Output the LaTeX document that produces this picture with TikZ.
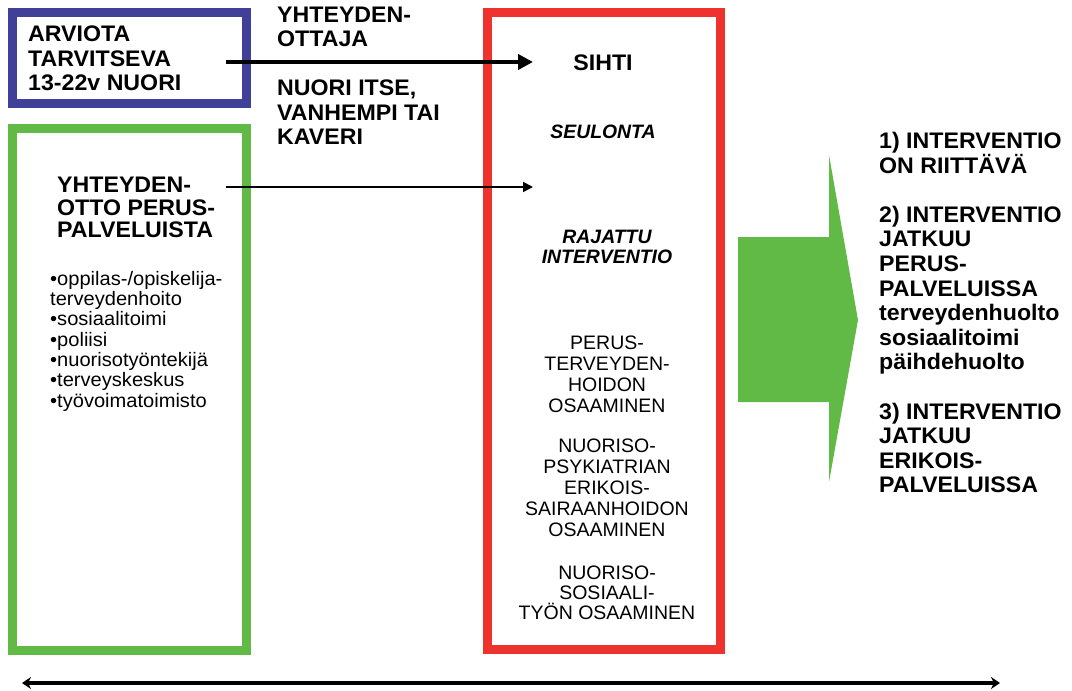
\documentclass[tikz,border=0pt]{standalone}
\usepackage{fontspec}
\setmainfont{Liberation Sans}
\newfontfamily\widesans{Liberation Sans}[FakeStretch=1.03]
\usetikzlibrary{arrows.meta}
\definecolor{boxblue}{RGB}{64,64,152}
\definecolor{boxgreen}{RGB}{98,186,70}
\definecolor{boxred}{RGB}{238,50,45}
\begin{document}
\begin{tikzpicture}[x=1pt,y=-1pt,
  frame/.style={line width=9pt},
  bigtxt/.style={font=\widesans\fontsize{22.5}{24.5}\selectfont\bfseries, inner sep=0pt, align=left},
  righttxt/.style={font=\widesans\fontsize{22.5}{24.6}\selectfont\bfseries, inner sep=0pt, align=left},
  listtxt/.style={font=\widesans\fontsize{19.5}{20.3}\selectfont, inner sep=0pt, align=left},
  redtxt/.style={font=\fontsize{19.5}{20.8}\selectfont, inner sep=0pt, align=center},
  itxt/.style={font=\fontsize{19.4}{20}\selectfont\bfseries\itshape, inner sep=0pt, align=center},
  thickarrow/.style={line width=4.5pt, -{Triangle[length=15pt,width=15pt]}},
  thinarrow/.style={line width=1.8pt, -{Triangle[length=10pt,width=10pt]}},
  bothway/.style={line width=3.4pt, {Stealth[length=9pt,width=12pt]}-{Stealth[length=9pt,width=12pt]}}]
\useasboundingbox (0,0) rectangle (1072,691);
% frames
\draw[frame, boxblue] (12,12) rectangle (246,103);
\draw[frame, boxgreen] (12,128) rectangle (246,650);
\draw[frame, boxred] (487,12) rectangle (720,649);
% texts left
\node[bigtxt, anchor=north west] (nuori) at (28,26) {ARVIOTA\\TARVITSEVA\\13-22v NUORI};
\node[bigtxt, font=\widesans\fontsize{22.5}{23.8}\selectfont\bfseries, anchor=north west] (yo) at (277,7) {YHTEYDEN-\\OTTAJA};
\node[bigtxt, anchor=north west] (itse) at (277,80) {NUORI ITSE,\\VANHEMPI TAI\\KAVERI};
\node[bigtxt, font=\widesans\fontsize{22.5}{22.6}\selectfont\bfseries, anchor=north west] (perus) at (57,177) {YHTEYDEN-\\OTTO PERUS-\\PALVELUISTA};
\node[listtxt, anchor=north west] (lista) at (50,271) {•oppilas-/opiskelija-\\terveydenhoito\\•sosiaalitoimi\\•poliisi\\•nuorisotyöntekijä\\•terveyskeskus\\•työvoimatoimisto};
% red box texts
\node[bigtxt] (sihti) at (603,63) {SIHTI};
\node[itxt] (seul) at (603,132) {SEULONTA};
\node[itxt, anchor=north] (raj) at (607,230) {RAJATTU\\INTERVENTIO};
\node[redtxt, anchor=north] (pth) at (607,336) {PERUS-\\TERVEYDEN-\\HOIDON\\OSAAMINEN};
\node[redtxt, anchor=north] (psy) at (607,439) {NUORISO-\\PSYKIATRIAN\\ERIKOIS-\\SAIRAANHOIDON\\OSAAMINEN};
\node[redtxt, font=\fontsize{19.5}{20}\selectfont, anchor=north] (sos) at (607,566) {NUORISO-\\SOSIAALI-\\TYÖN OSAAMINEN};
% right texts
\node[righttxt, anchor=north west] (tulos) at (879,132) {1) INTERVENTIO\\ON RIITTÄVÄ\\[24.6pt]2) INTERVENTIO\\JATKUU\\PERUS-\\PALVELUISSA\\terveydenhuolto\\sosiaalitoimi\\päihdehuolto\\[24.6pt]3) INTERVENTIO\\JATKUU\\ERIKOIS-\\PALVELUISSA};
% green block arrow
\fill[boxgreen] (738,237) -- (829,237) -- (829,155) -- (858,320) -- (829,482) -- (829,402) -- (738,402) -- cycle;
% connectors
\coordinate (a1s) at (226,62);
\coordinate (a1e) at (533,62);
\coordinate (a2s) at (226,187);
\coordinate (a2e) at (533,187);
\coordinate (bl) at (22,683);
\coordinate (br) at (1000,683);
\draw[thickarrow] (a1s) -- (a1e);
\draw[thinarrow] (a2s) -- (a2e);
\draw[bothway] (bl) -- (br);
\end{tikzpicture}
\end{document}
